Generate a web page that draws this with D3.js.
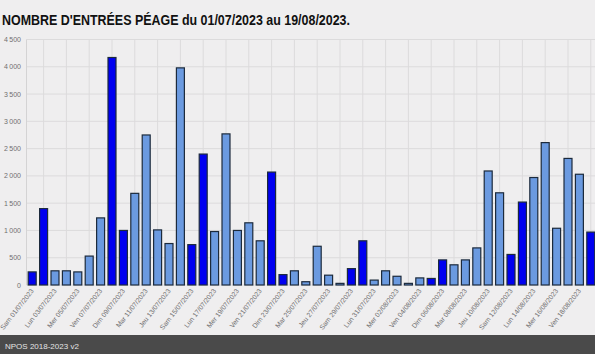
<!DOCTYPE html>
<html>
<head>
<meta charset="utf-8">
<script src="https://cdn.jsdelivr.net/npm/d3@7"></script>
<style>
  html, body { margin: 0; padding: 0; background: #efeeef; }
  body { width: 595px; height: 354px; overflow: hidden; font-family: "Liberation Sans", Arial, sans-serif; }
</style>
</head>
<body>
<div class="canvas"></div>
<script>
// one label per day, 01/07 -> 19/08
const jours = [
  'Sam 01/07/2023','Dim 02/07/2023','Lun 03/07/2023','Mar 04/07/2023','Mer 05/07/2023','Jeu 06/07/2023','Ven 07/07/2023',
  'Sam 08/07/2023','Dim 09/07/2023','Lun 10/07/2023','Mar 11/07/2023','Mer 12/07/2023','Jeu 13/07/2023','Ven 14/07/2023',
  'Sam 15/07/2023','Dim 16/07/2023','Lun 17/07/2023','Mar 18/07/2023','Mer 19/07/2023','Jeu 20/07/2023','Ven 21/07/2023',
  'Sam 22/07/2023','Dim 23/07/2023','Lun 24/07/2023','Mar 25/07/2023','Mer 26/07/2023','Jeu 27/07/2023','Ven 28/07/2023',
  'Sam 29/07/2023','Dim 30/07/2023','Lun 31/07/2023','Mar 01/08/2023','Mer 02/08/2023','Jeu 03/08/2023','Ven 04/08/2023',
  'Sam 05/08/2023','Dim 06/08/2023','Lun 07/08/2023','Mar 08/08/2023','Mer 09/08/2023','Jeu 10/08/2023','Ven 11/08/2023',
  'Sam 12/08/2023','Dim 13/08/2023','Lun 14/08/2023','Mar 15/08/2023','Mer 16/08/2023','Jeu 17/08/2023','Ven 18/08/2023',
  'Sam 19/08/2023'
];

// entrées péage per day
const entrees = [
  240, 1400, 260, 260, 240, 530, 1230,
  4170, 1000, 1680, 2750, 1010, 760, 3980,
  740, 2400, 980, 2770, 1000, 1140, 810,
  2070, 190, 260, 60, 710, 180, 30,
  300, 810, 90, 260, 160, 30, 130,
  120, 460, 370, 460, 680, 2090, 1690,
  560, 1520, 1970, 2610, 1040, 2320, 2030,
  970
];

const yTicks = [0, 500, 1000, 1500, 2000, 2500, 3000, 3500, 4000, 4500];

const svg = d3.select('.canvas')
  .append('svg')
    .attr('width', 595)
    .attr('height', 354);

// title (reference font is narrower, squeeze it to the same width)
svg.append('text')
  .attr('x', 2)
  .attr('y', 25)
  .attr('font-size', 14)
  .attr('font-weight', 'bold')
  .attr('fill', '#111')
  .attr('textLength', 348)
  .attr('lengthAdjust', 'spacingAndGlyphs')
  .text("NOMBRE D'ENTRÉES PÉAGE du 01/07/2023 au 19/08/2023.");

const x = d3.scaleBand()
  .domain(jours)
  .range([26.5, 596.5])
  .paddingInner(0.3)
  .paddingOuter(0.15);

const y = d3.scaleLinear()
  .domain([0, 4500])
  .range([285, 39.5]);

const graph = svg.append('g');

// horizontal grid
graph.selectAll('line.hgrid')
  .data(yTicks)
  .enter().append('line')
    .attr('class', 'hgrid')
    .attr('x1', 26.5).attr('x2', 595)
    .attr('y1', d => y(d)).attr('y2', d => y(d))
    .attr('stroke', '#dcdbdc')
    .attr('stroke-width', 1);

// vertical grid, every other day
graph.selectAll('line.vgrid')
  .data(jours.filter((d, i) => i % 2 === 1))
  .enter().append('line')
    .attr('class', 'vgrid')
    .attr('x1', d => x(d) + x.bandwidth() / 2).attr('x2', d => x(d) + x.bandwidth() / 2)
    .attr('y1', y(4500)).attr('y2', y(0))
    .attr('stroke', '#dcdbdc')
    .attr('stroke-width', 1);

// y axis line
graph.append('line')
  .attr('x1', 26.5).attr('x2', 26.5)
  .attr('y1', y(4500)).attr('y2', y(0))
  .attr('stroke', '#d4d3d4');

// bars: weekends in dark blue
graph.selectAll('rect')
  .data(entrees)
  .enter().append('rect')
    .attr('x', (d, i) => x(jours[i]))
    .attr('y', d => y(d))
    .attr('width', x.bandwidth())
    .attr('height', d => y(0) - y(d))
    .attr('fill', (d, i) => /^(Sam|Dim)/.test(jours[i]) ? '#0000f0' : '#6b9ae0')
    .attr('stroke', '#1c2a3c')
    .attr('stroke-width', 1.2);

// y tick labels, french thousands separator
const fmt = d => d >= 1000 ? Math.floor(d / 1000) + '\u2009' + String(d % 1000).padStart(3, '0') : String(d);
graph.selectAll('text.ytick')
  .data(yTicks)
  .enter().append('text')
    .attr('class', 'ytick')
    .attr('x', 21)
    .attr('y', d => y(d) + 2.5)
    .attr('text-anchor', 'end')
    .attr('font-size', 7)
    .attr('fill', '#6f6f6f')
    .text(fmt);

// x tick labels, one day out of two, rotated
graph.selectAll('text.xtick')
  .data(jours.filter((d, i) => i % 2 === 0))
  .enter().append('text')
    .attr('class', 'xtick')
    .attr('transform', d => `translate(${x(d) + x.bandwidth() / 2 + 2}, 291) rotate(-52)`)
    .attr('text-anchor', 'end')
    .attr('font-size', 6.8)
    .attr('fill', '#6f6f6f')
    .text(d => d);

// footer band
svg.append('rect')
  .attr('x', 0).attr('y', 335)
  .attr('width', 595).attr('height', 19)
  .attr('fill', '#4a4a4a');

svg.append('text')
  .attr('x', 5)
  .attr('y', 348.5)
  .attr('font-size', 8)
  .attr('fill', '#e4e4e4')
  .text('NPOS 2018-2023 v2');
</script>
</body>
</html>
